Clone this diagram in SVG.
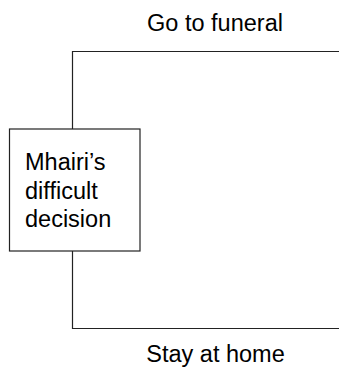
<svg xmlns="http://www.w3.org/2000/svg" width="339" height="367" viewBox="0 0 339 367">
<style>
.t{font-family:"Liberation Sans",Arial,sans-serif;font-size:23.5px;fill:#000}
.ln{fill:none;stroke:#222;stroke-width:1.2}
</style>
<rect width="339" height="367" fill="#fff"/>
<g id="connectors">
<path class="ln" d="M72.5,129 V51.5 H339"/>
<path class="ln" d="M72.5,251 V328.5 H339"/>
</g>
<g id="decision">
<rect class="ln" x="9.5" y="129" width="130.5" height="122" fill="#fff"/>
<text class="t" x="25" y="170">Mhairi’s</text>
<text class="t" x="25" y="198.5">difficult</text>
<text class="t" x="25" y="227">decision</text>
</g>
<g id="funeral">
<text class="t" x="215" y="31" text-anchor="middle">Go to funeral</text>
</g>
<g id="home">
<text class="t" x="215.5" y="362" text-anchor="middle">Stay at home</text>
</g>
</svg>
